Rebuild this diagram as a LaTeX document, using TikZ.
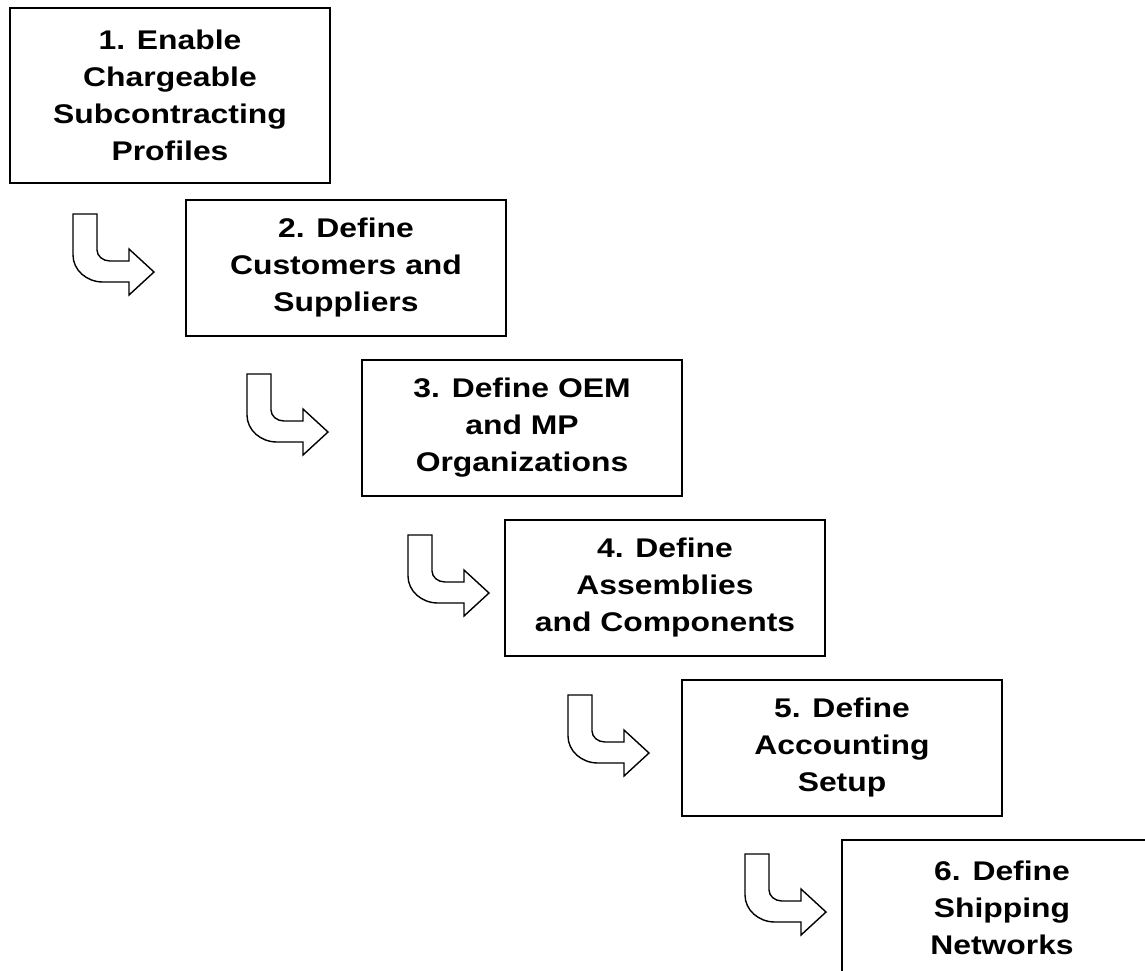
\documentclass[tikz,border=0pt]{standalone}
\usepackage{fontspec}
\newfontfamily\boxfont[FakeStretch=1.18]{Liberation Sans}
\begin{document}
\begin{tikzpicture}[x=1pt,y=-1pt,
  stepbox/.style={draw=black,line width=2pt,fill=white,inner sep=0pt,
    minimum width=320pt,minimum height=136pt,anchor=north west,align=center,
    font=\boxfont\bfseries\fontsize{27}{37}\selectfont},
  bentarrow/.style={draw=black,line width=1.4pt,fill=white,line join=miter}]
\useasboundingbox (0,0) rectangle (1145,970);
\clip (0,0) rectangle (1145,970);
\fill[white] (0,0) rectangle (1145,970);
\tikzset{pics/uarrow/.style={code={
  \draw[bentarrow] (0,0) -- (24,0) -- (24,36)
    .. controls (24,42) and (29.8,47) .. (37,47)
    -- (56,47) -- (56,35) -- (81,58) -- (56,81) -- (56,68) -- (30,68)
    .. controls (13.4,68) and (0,55.9) .. (0,41) -- cycle;
}}}
\node[stepbox,minimum height=175pt] (s1) at (9,7) {1. Enable\\Chargeable\\Subcontracting\\Profiles};
\node[stepbox] (s2) at (185,199) {2. Define\\Customers and\\Suppliers};
\node[stepbox] (s3) at (361,359) {3. Define OEM\\and MP\\Organizations};
\node[stepbox] (s4) at (504,519) {4. Define\\Assemblies\\and Components};
\node[stepbox] (s5) at (681,679) {5. Define\\Accounting\\Setup};
\node[stepbox] (s6) at (841,839) {6. Define\\Shipping\\Networks};
\pic (a1) at (73,214) {uarrow};
\pic (a2) at (247,374) {uarrow};
\pic (a3) at (408,535) {uarrow};
\pic (a4) at (568,695) {uarrow};
\pic (a5) at (745,854) {uarrow};
\end{tikzpicture}
\end{document}
